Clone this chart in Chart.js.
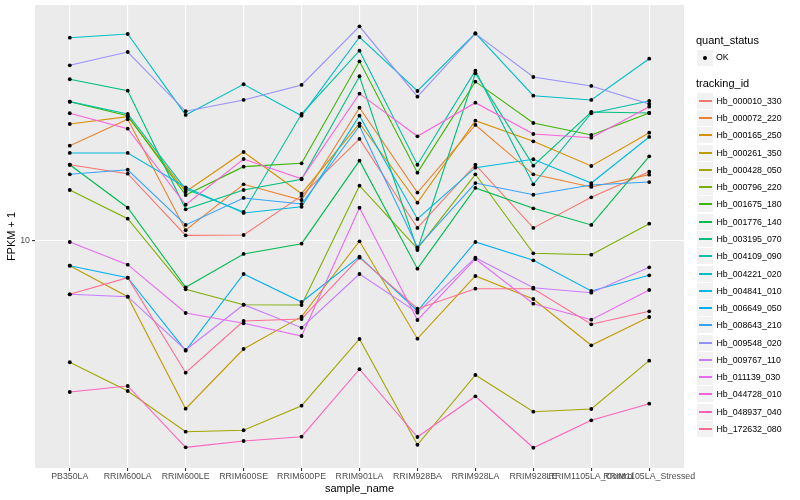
<!DOCTYPE html>
<html>
<head>
<meta charset="utf-8">
<script src="https://cdn.jsdelivr.net/npm/chart.js@4.4.0/dist/chart.umd.min.js"></script>
<style>
  body { margin: 0; background: #ffffff; }
  #wrap { position: relative; width: 800px; height: 500px; font-family: "Liberation Sans", Arial, sans-serif; }
  #legend div { position: absolute; white-space: nowrap; }
  .ttl { font-size: 11px; line-height: 13px; color: #000; }
  .lab { font-size: 8.8px; line-height: 10px; color: #000; }
  .key { width: 16px; height: 16px; background: #F2F2F2; border: 1px solid #ffffff; box-sizing: content-box; }
</style>
</head>
<body>
<div id="wrap">
  <canvas id="myChart" width="800" height="500"></canvas>
  <div id="legend"></div>
</div>
<script>
const categories = ["PB350LA", "RRIM600LA", "RRIM600LE", "RRIM600SE", "RRIM600PE", "RRIM901LA",
  "RRIM928BA", "RRIM928LA", "RRIM928LE", "RRIM1105LA_Control", "RRIM1105LA_Stressed"];

const trackingIds = ["Hb_000010_330", "Hb_000072_220", "Hb_000165_250", "Hb_000261_350", "Hb_000428_050",
  "Hb_000796_220", "Hb_001675_180", "Hb_001776_140", "Hb_003195_070", "Hb_004109_090",
  "Hb_004221_020", "Hb_004841_010", "Hb_006649_050", "Hb_008643_210", "Hb_009548_020",
  "Hb_009767_110", "Hb_011139_030", "Hb_044728_010", "Hb_048937_040", "Hb_172632_080"];

const yTicks = [10];

// FPKM + 1, one value per sample
const hb000010_330 = [15.51, 14.73, 10.33, 10.35, 12.96, 17.99, 10.78, 15.51, 10.78, 12.86, 14.90];
const hb000072_220 = [17.31, 20.15, 10.64, 13.86, 12.66, 21.54, 13.21, 19.50, 14.68, 13.65, 14.65];
const hb000165_250 = [19.61, 20.45, 13.28, 16.69, 13.13, 19.69, 12.47, 19.99, 17.75, 15.40, 18.65];
const hb000261_350 = [8.675, 7.256, 3.808, 5.370, 6.468, 9.983, 5.698, 8.175, 7.161, 5.486, 6.457];
const hb000428_050 = [4.975, 4.217, 3.336, 3.364, 3.875, 5.688, 3.095, 4.624, 3.743, 3.802, 5.021];
const hb000796_220 = [13.41, 11.37, 7.573, 6.930, 6.918, 13.75, 9.567, 14.68, 9.317, 9.242, 11.05];
const hb001675_180 = [22.30, 20.57, 13.03, 15.34, 15.64, 28.13, 14.82, 25.02, 19.72, 18.41, 20.89];
const hb001776_140 = [15.51, 12.11, 7.660, 9.280, 9.846, 15.88, 8.526, 13.57, 12.07, 10.97, 16.28];
const hb003195_070 = [25.37, 23.75, 12.00, 13.41, 14.26, 25.81, 9.495, 26.26, 15.43, 21.01, 20.89];
const hb004109_090 = [22.30, 20.77, 13.49, 11.82, 20.77, 29.91, 15.51, 26.65, 13.86, 20.86, 22.39];
const hb004221_020 = [32.23, 32.92, 20.66, 24.65, 20.57, 32.36, 23.71, 33.06, 23.08, 22.52, 28.56];
const hb004841_010 = [16.60, 16.60, 13.62, 11.75, 12.18, 20.57, 11.35, 15.25, 16.01, 13.96, 18.20];
const hb006649_050 = [8.675, 8.095, 5.318, 8.270, 7.038, 9.136, 6.683, 9.943, 8.949, 7.499, 8.208];
const hb008643_210 = [14.68, 15.07, 10.97, 12.81, 12.37, 19.39, 9.644, 13.96, 13.05, 13.80, 14.04];
const hb009548_020 = [27.49, 29.68, 21.10, 22.52, 24.55, 34.41, 22.95, 32.98, 25.70, 24.41, 22.00];
const hb009767_110 = [7.357, 7.256, 5.340, 6.930, 6.071, 8.270, 6.619, 9.084, 7.643, 7.425, 8.595];
const hb011139_030 = [9.943, 8.725, 6.607, 6.227, 5.787, 12.11, 6.346, 9.016, 6.971, 6.358, 7.542];
const hb044728_010 = [20.86, 19.09, 12.32, 16.03, 14.31, 23.35, 18.27, 22.17, 18.51, 18.12, 21.66];
const hb048937_040 = [4.193, 4.340, 3.049, 3.162, 3.241, 4.779, 3.236, 4.090, 3.042, 3.562, 3.920];
const hb172632_080 = [7.357, 8.095, 4.686, 6.310, 6.383, 9.084, 6.772, 7.599, 7.599, 6.191, 6.672];

const series = [hb000010_330, hb000072_220, hb000165_250, hb000261_350, hb000428_050,
  hb000796_220, hb001675_180, hb001776_140, hb003195_070, hb004109_090,
  hb004221_020, hb004841_010, hb006649_050, hb008643_210, hb009548_020,
  hb009767_110, hb011139_030, hb044728_010, hb048937_040, hb172632_080];

// ggplot hue palette, 20 levels
const palette = ["#F8766D", "#EA8331", "#D89000", "#C09B00", "#A3A500", "#7CAE00", "#39B600", "#00BB4E",
  "#00BF7D", "#00C1A3", "#00BFC4", "#00BAE0", "#00B0F6", "#35A2FF", "#9590FF", "#C77CFF",
  "#E76BF3", "#FA62DB", "#FF62BC", "#FF6C91"];

const fontFamily = '"Liberation Sans", Arial, sans-serif';

const panelBg = {
    id: "panelBg",
    beforeDraw(chart) {
        const {ctx, chartArea: a} = chart;
        ctx.save();
        ctx.fillStyle = "#EBEBEB";
        ctx.fillRect(a.left, a.top, a.right - a.left, a.bottom - a.top);
        ctx.restore();
    }
};

// black points for quant_status = OK, drawn over every line
const okPoints = {
    id: "okPoints",
    afterDatasetsDraw(chart) {
        const ctx = chart.ctx;
        ctx.save();
        ctx.fillStyle = "#000000";
        chart.data.datasets.forEach((d, i) => {
            chart.getDatasetMeta(i).data.forEach(p => {
                ctx.beginPath();
                ctx.arc(p.x, p.y, 1.9, 0, Math.PI * 2);
                ctx.fill();
            });
        });
        ctx.restore();
    }
};

const datasets = series.map((vals, k) => ({
    label: trackingIds[k],
    data: vals.map((v, i) => ({x: i, y: v})),
    borderColor: palette[k],
    backgroundColor: palette[k],
    borderWidth: 1.1,
    pointRadius: 0,
    fill: false,
    tension: 0,
    order: series.length - k
}));

const ctx = document.getElementById("myChart").getContext("2d");
const chart = new Chart(ctx, {
    type: "line",
    data: {datasets: datasets},
    plugins: [panelBg, okPoints],
    options: {
        responsive: false,
        animation: false,
        events: [],
        layout: {padding: {top: 5, right: 116, left: 0, bottom: 0}},
        plugins: {legend: {display: false}, tooltip: {enabled: false}},
        scales: {
            x: {
                type: "linear",
                min: -0.6,
                max: 10.6,
                afterBuildTicks: s => { s.ticks = categories.map((c, i) => ({value: i})); },
                afterFit: s => { s.height = 32; },
                ticks: {
                    callback: v => categories[v],
                    autoSkip: false, maxRotation: 0, minRotation: 0,
                    color: "#4D4D4D", padding: 0,
                    font: {family: fontFamily, size: 8.8}
                },
                grid: {color: "#FFFFFF", lineWidth: 1.1, tickColor: "#333333", tickLength: 3},
                border: {display: false},
                title: {
                    display: true, text: "sample_name", color: "#000000",
                    font: {family: fontFamily, size: 11}, padding: {top: 0, bottom: 4}
                }
            },
            y: {
                type: "logarithmic",
                min: 2.707,
                max: 38.9,
                afterBuildTicks: s => { s.ticks = yTicks.map(v => ({value: v})); },
                afterFit: s => { s.width = 35; s.paddingTop = 0; s.paddingBottom = 0; },
                ticks: {
                    callback: v => String(v),
                    color: "#4D4D4D", padding: 2,
                    font: {family: fontFamily, size: 8.8}
                },
                grid: {color: "#FFFFFF", lineWidth: 1.1, tickColor: "#333333", tickLength: 3},
                border: {display: false},
                title: {
                    display: true, text: "FPKM + 1", color: "#000000",
                    font: {family: fontFamily, size: 11}, padding: {top: 5, bottom: 0}
                }
            }
        }
    }
});

// legend, ggplot style
const legend = document.getElementById("legend");
function put(cls, text, x, y) {
    const el = document.createElement("div");
    el.className = cls;
    el.textContent = text;
    el.style.left = x + "px";
    el.style.top = y + "px";
    legend.append(el);
    return el;
}
put("ttl", "quant_status", 696, 34);
const okKey = put("key", "", 696, 49);
const dot = document.createElement("div");
dot.style.cssText = "position:absolute;left:6px;top:6px;width:4px;height:4px;border-radius:2px;background:#000";
okKey.append(dot);
put("lab", "OK", 716, 52);

put("ttl", "tracking_id", 696, 77);
trackingIds.forEach((id, k) => {
    const cy = Math.round(100.7 + k * 17.28);
    const key = put("key", "", 696, cy - 9);
    const ln = document.createElement("div");
    ln.style.cssText = "position:absolute;left:2px;width:13px;height:2px;top:7px;background:" + palette[k];
    key.append(ln);
    put("lab", id, 716.5, cy - 5);
});
</script>
</body>
</html>
